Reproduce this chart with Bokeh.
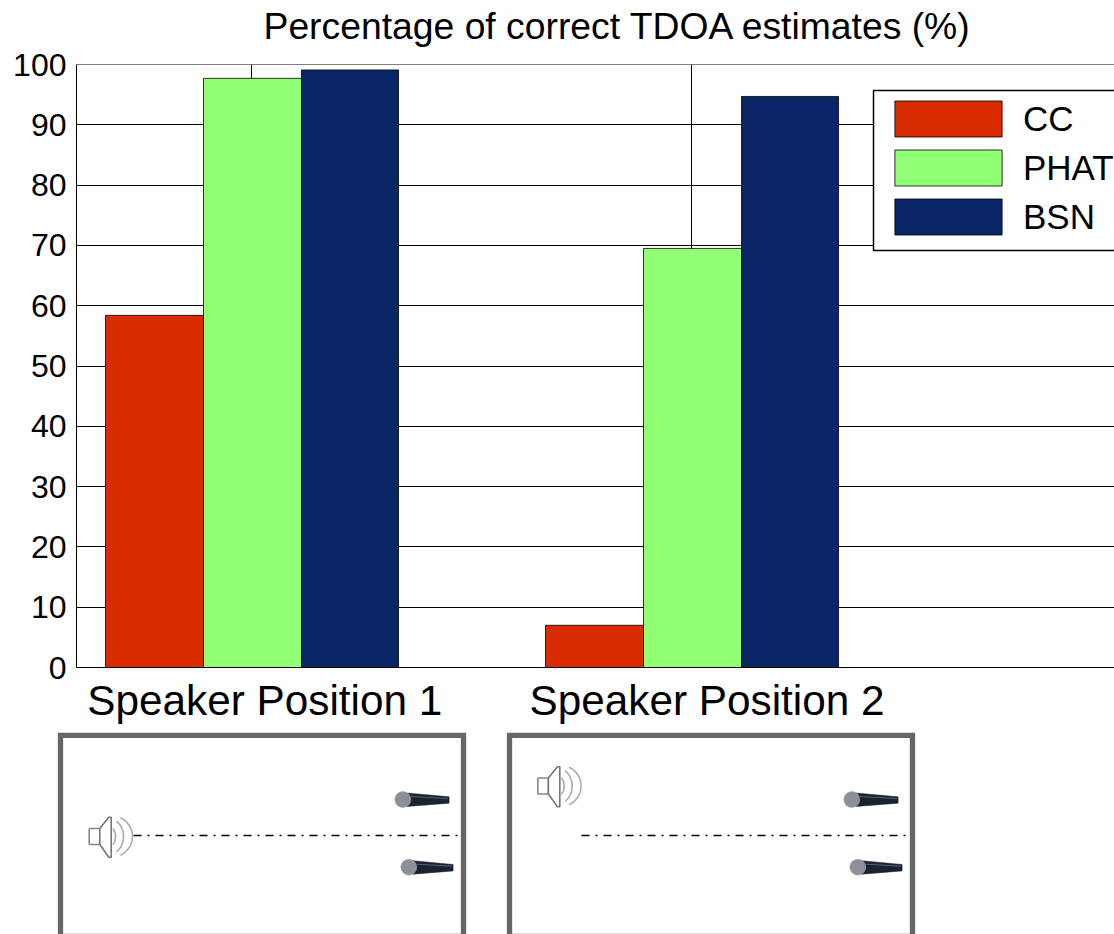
import numpy as np
from bokeh.embed import file_html
from bokeh.layouts import column
from bokeh.models import BoxAnnotation, FixedTicker, Label, Legend, LegendItem, Range1d, Span
from bokeh.plotting import figure
from bokeh.resources import INLINE

# ---- data ----
groups = [1, 2]
group_labels = ["Speaker Position 1", "Speaker Position 2"]
cc = [58.4, 7.0]
phat = [97.7, 69.5]
bsn = [99.1, 94.7]
y_ticks = [0, 10, 20, 30, 40, 50, 60, 70, 80, 90, 100]
series_names = ["CC", "PHAT", "BSN"]
series_colors = ["#D92B00", "#90FF73", "#0A2565"]
title_text = "Percentage of correct TDOA estimates (%)"

FONT = "Liberation Sans"
W, H_TOP, H_BOT = 1114, 726, 208

# ---- chart ----
p = figure(width=W, height=H_TOP, output_backend="svg", toolbar_location=None,
           x_range=Range1d(0.602, 2.961), y_range=Range1d(0, 100),
           min_border_left=76, min_border_right=0, min_border_top=64, min_border_bottom=59,
           outline_line_color=None, background_fill_color="white")
p.frame_align = False
# title as a label in the band above the frame
p.add_layout(Label(x=187, y=39, x_units="screen", y_units="screen", text=title_text,
                   text_font=FONT, text_font_size="37.3px", text_color="black",
                   text_align="left", text_baseline="middle"), "above")

bar_w = 0.2227
widths = [bar_w, bar_w, 0.2205]
xs = np.array(groups, dtype=float)
renderers = []
for i, (w, vals, col) in enumerate(zip(widths, [cc, phat, bsn], series_colors)):
    left = xs - 1.5 * bar_w + 0.002 + i * bar_w
    r = p.vbar(x=left + w / 2, top=vals, bottom=0, width=w,
               fill_color=col, line_color="black", line_width=0.8)
    renderers.append(r)

p.yaxis.ticker = FixedTicker(ticks=y_ticks)
p.yaxis.major_label_text_font = FONT
p.yaxis.major_label_text_font_size = "32px"
p.yaxis.major_label_text_color = "black"
p.yaxis.major_label_standoff = 10
p.yaxis.major_tick_in = 0
p.yaxis.major_tick_out = 0
p.yaxis.minor_tick_in = 0
p.yaxis.minor_tick_out = 0
p.yaxis.axis_line_color = "black"

label_ticks = [1.03, 2.035]
p.xaxis.ticker = FixedTicker(ticks=label_ticks)
p.xaxis.major_label_overrides = dict(zip(label_ticks, group_labels))
p.xaxis.major_label_text_font = FONT
p.xaxis.major_label_text_font_size = "42.3px"
p.xaxis.major_label_text_color = "black"
p.xaxis.major_label_standoff = 9
p.xaxis.major_tick_in = 0
p.xaxis.major_tick_out = 0
p.xaxis.minor_tick_in = 0
p.xaxis.minor_tick_out = 0
p.xaxis.axis_line_color = "black"

p.xgrid.ticker = FixedTicker(ticks=groups)
p.ygrid.ticker = FixedTicker(ticks=y_ticks)
for g in (p.xgrid, p.ygrid):
    g.grid_line_color = "black"
    g.grid_line_width = 1
p.add_layout(Span(location=100, dimension="width", line_color="black", line_width=1.2, level="underlay"))

# legend background box (screen offsets from the frame's lower-left corner)
p.add_layout(BoxAnnotation(left=797, right=1050, top=577, bottom=417,
                           left_units="screen", right_units="screen",
                           top_units="screen", bottom_units="screen",
                           fill_color="white", fill_alpha=1,
                           line_color="black", line_alpha=1, line_width=1.5, level="annotation"))
legend = Legend(items=[LegendItem(label=n, renderers=[r]) for n, r in zip(series_names, renderers)],
                location=(805, 428), orientation="vertical",
                glyph_width=134, glyph_height=45, label_standoff=8, spacing=4, padding=0,
                margin=0, border_line_color=None, background_fill_alpha=0,
                label_text_font=FONT, label_text_font_size="35px", label_text_color="black",
                label_height=45)
p.add_layout(legend, "center")

# ---- speaker position sketches (page-pixel coordinates) ----
q = figure(width=W, height=H_BOT, output_backend="svg", toolbar_location=None,
           x_range=Range1d(0, 1114), y_range=Range1d(934, 726),
           min_border=0, outline_line_color=None)
q.frame_align = False
q.axis.visible = False
q.grid.visible = False
GREY = "#666666"


def speaker(dx, dy):
    q.line([88.7 + dx, 88.7 + dx, 99.3 + dx, 99.3 + dx, 88.7 + dx],
           [828 + dy, 844 + dy, 844 + dy, 828 + dy, 828 + dy], line_color="#888888", line_width=1.6)
    q.patch([99.3 + dx, 108.3 + dx, 110.7 + dx, 110.7 + dx, 108.3 + dx, 99.3 + dx],
            [828 + dy, 816.7 + dy, 816.7 + dy, 856.7 + dy, 856.7 + dy, 844 + dy],
            fill_color="white", line_color="#777777", line_width=1.6)
    for a, b in [(5, 9), (13, 17), (22, 21)]:
        t = np.linspace(-1.1, 1.1, 30)
        q.line(110 + dx + a * np.cos(t), 836 + dy + b * np.sin(t),
               line_color="#aaaaaa", line_width=1.6)


def mic(dx, dy, tail):
    q.patch([406 + dx, tail + dx, tail + dx, 406 + dx],
            [792.5 + dy, 796.3 + dy, 802.7 + dy, 806 + dy],
            fill_color="#1a2230", line_color="#1a2230", line_width=0.5)
    q.line([410 + dx, tail - 1 + dx], [796 + dy, 798 + dy], line_color="#56606e", line_width=1)
    q.scatter([402 + dx], [799 + dy], size=16, marker="circle",
              fill_color="#8d909a", line_color="#a5a7ae", line_width=0.5)


for box_dx, line_x0, line_x1, spk_dx, spk_dy in [(0, 133, 458, 0, 0), (449, 581, 907, 448.6, -50.5)]:
    q.line([58 + box_dx, 465 + box_dx], [933.5, 933.5], line_color="#bbbbbb", line_width=1)
    q.line([60 + box_dx, 60 + box_dx, 463 + box_dx, 463 + box_dx],
           [940, 734.8, 734.8, 940], line_color=GREY, line_width=5.3, line_join="miter")
    q.line([line_x0, line_x1], [835, 835], line_color="black", line_width=1.6, line_dash="8 6 2 6")
    speaker(spk_dx, spk_dy)
    mic(box_dx + 0.3, 0, 448.3)
    mic(box_dx + 6.3, 67.7, 446.3)

layout = column(p, q, spacing=0)
open("out.html", "w").write(file_html(layout, INLINE))
